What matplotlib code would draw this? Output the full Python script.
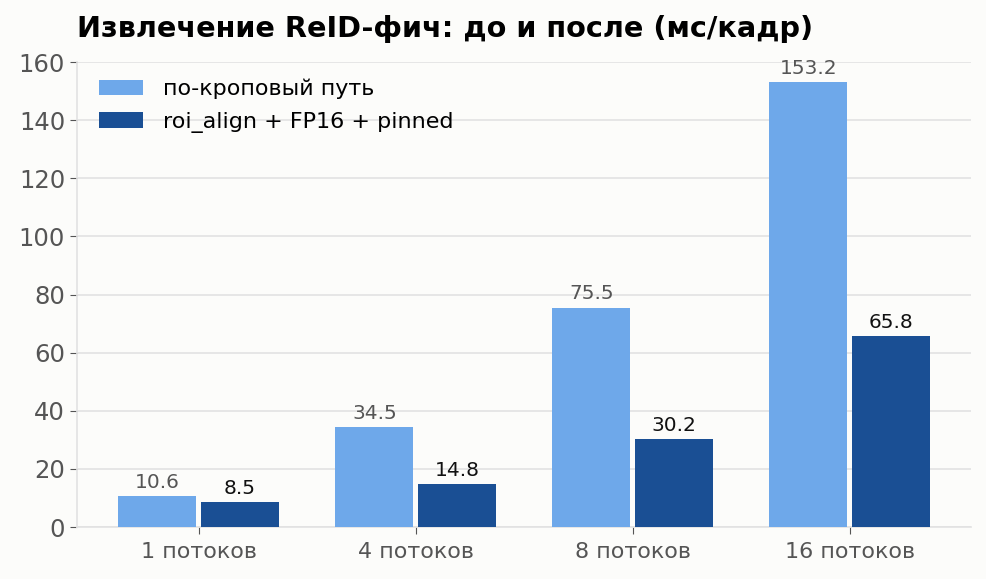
import matplotlib.pyplot as plt
import numpy as np

categories = ['1 потоков', '4 потоков', '8 потоков', '16 потоков']
per_crop = [10.6, 34.5, 75.5, 153.2]
roi_align = [8.5, 14.8, 30.2, 65.8]
series_names = ['по-кроповый путь', 'roi_align + FP16 + pinned']

plt.rcParams['font.family'] = ['DejaVu Sans']

fig = plt.figure(figsize=(9.87, 5.79), dpi=100, facecolor='#fcfcfa')
ax = fig.add_axes([0.078, 0.0898, 0.906, 0.803])
ax.set_facecolor('#fcfcfa')

x = np.arange(len(categories))
w = 0.36
b1 = ax.bar(x - 0.19, per_crop, w, color='#6ea8ea', label=series_names[0], zorder=3)
b2 = ax.bar(x + 0.19, roi_align, w, color='#1a4f94', label=series_names[1], zorder=3)

for rect, v in zip(b1, per_crop):
    ax.annotate('%.1f' % v, (rect.get_x() + rect.get_width() / 2, v),
                xytext=(0, 3), textcoords='offset points', ha='center', va='bottom',
                fontsize=14.5, color='#555555')
for rect, v in zip(b2, roi_align):
    ax.annotate('%.1f' % v, (rect.get_x() + rect.get_width() / 2, v),
                xytext=(0, 3), textcoords='offset points', ha='center', va='bottom',
                fontsize=14.5, color='#111111')

ax.set_xlim(-0.56, 3.56)
ax.set_ylim(0, 160)
ax.set_yticks(np.arange(0, 161, 20))
ax.set_xticks(x)
ax.set_xticklabels(categories)
ax.tick_params(axis='y', labelsize=17.5, colors='#555555', length=5)
ax.tick_params(axis='x', labelsize=16, colors='#555555', length=5, pad=6)
ax.grid(axis='y', color='#e2e2e2', linewidth=1.2, zorder=0)
for s in ['top', 'right']:
    ax.spines[s].set_visible(False)
for s in ['left', 'bottom']:
    ax.spines[s].set_color('#e2e2e2')
    ax.spines[s].set_linewidth(1.2)

ax.set_title('Извлечение ReID-фич: до и после (мс/кадр)', loc='left',
             fontsize=20.7, fontweight='bold', pad=18)
ax.legend(loc='upper left', bbox_to_anchor=(0.008, 0.995), frameon=False, fontsize=16,
          handlelength=2.0, handleheight=0.7, borderaxespad=0.25, labelspacing=0.55,
          handletextpad=0.9)

fig.savefig('out.png', dpi=100, facecolor=fig.get_facecolor())
